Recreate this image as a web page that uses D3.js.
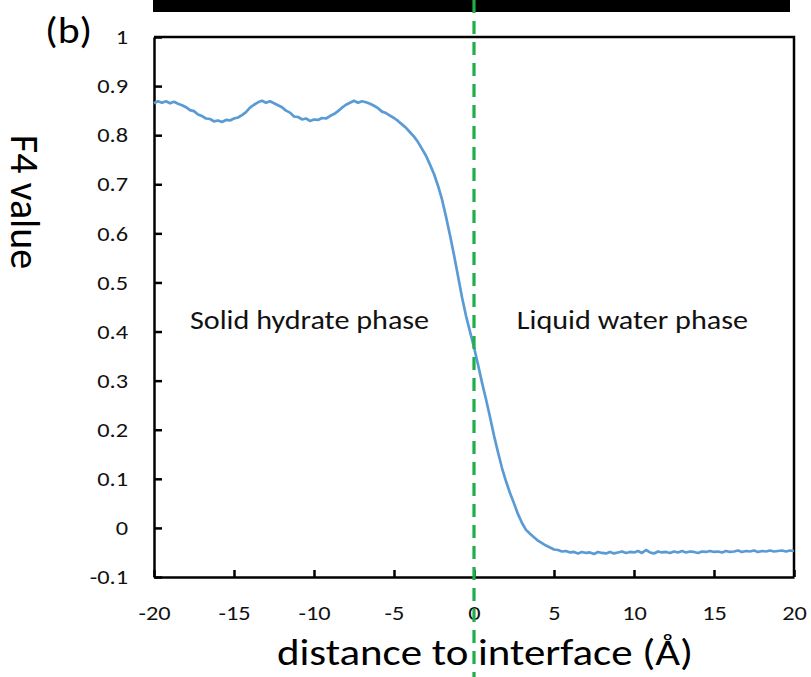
<!DOCTYPE html>
<html>
<head>
<meta charset="utf-8">
<script src="https://cdn.jsdelivr.net/npm/d3@7"></script>
<style>
  body { margin: 0; background: #fff; }
  svg { display: block; }
  text { font-family: Carlito, Lato, "Open Sans", sans-serif; }
</style>
</head>
<body>
<div id="chart"></div>
<script>
// data: F4 value vs distance to interface (Å), step 0.25
var distance = d3.range(161).map(i => -20 + i * 0.25)
var f4 = [
  0.865, 0.869, 0.866, 0.869, 0.865, 0.868, 0.864, 0.861, 0.857, 0.851,
  0.849, 0.842, 0.839, 0.834, 0.833, 0.828, 0.830, 0.827, 0.831, 0.830,
  0.834, 0.836, 0.841, 0.847, 0.856, 0.862, 0.867, 0.870, 0.866, 0.869,
  0.865, 0.861, 0.857, 0.850, 0.846, 0.838, 0.837, 0.832, 0.834, 0.829,
  0.832, 0.831, 0.835, 0.834, 0.839, 0.843, 0.849, 0.856, 0.862, 0.866,
  0.870, 0.866, 0.869, 0.867, 0.864, 0.860, 0.855, 0.848, 0.845, 0.840,
  0.835, 0.829, 0.822, 0.815, 0.806, 0.797, 0.786, 0.772, 0.758, 0.740,
  0.721, 0.697, 0.669, 0.634, 0.596, 0.556, 0.513, 0.470, 0.432, 0.400,
  0.368, 0.333, 0.296, 0.262, 0.226, 0.188, 0.154, 0.122, 0.095, 0.071,
  0.050, 0.028, 0.010, -0.004, -0.012, -0.019, -0.026, -0.031, -0.036, -0.040,
  -0.044, -0.045, -0.048, -0.047, -0.050, -0.049, -0.052, -0.049, -0.051, -0.050,
  -0.053, -0.049, -0.051, -0.052, -0.049, -0.052, -0.050, -0.048, -0.051, -0.049,
  -0.050, -0.047, -0.051, -0.045, -0.050, -0.052, -0.048, -0.050, -0.049, -0.051,
  -0.048, -0.050, -0.047, -0.050, -0.048, -0.049, -0.051, -0.048, -0.049, -0.047,
  -0.049, -0.048, -0.050, -0.047, -0.049, -0.048, -0.046, -0.049, -0.047, -0.048,
  -0.046, -0.049, -0.047, -0.048, -0.046, -0.048, -0.047, -0.046, -0.048, -0.046,
  -0.047
]
var xTicks = [-20, -15, -10, -5, 0, 5, 10, 15, 20]
var yTicks = [-0.1, 0, 0.1, 0.2, 0.3, 0.4, 0.5, 0.6, 0.7, 0.8, 0.9, 1]
var interfaceAt = 0
var phaseLabels = [
  {text: "Solid hydrate phase", x: -10.28, y: 0.405},
  {text: "Liquid water phase", x: 9.9, y: 0.405}
]

// layout
var total_width = 811, total_height = 677
var margin = {top: 37, right: 17, bottom: 100, left: 154}
var width = total_width - margin.left - margin.right,
    height = total_height - margin.top - margin.bottom
var stretch = 1.16   // the source figure is a bit wider than tall

var svg = d3.select("#chart").append("svg")
    .attr("width", total_width)
    .attr("height", total_height)

var x = d3.scaleLinear().domain([-20, 20]).range([margin.left, margin.left + width])
var y = d3.scaleLinear().domain([-0.1, 1]).range([margin.top + height, margin.top])

var yFmt = d => d === 0 ? "0" : d === 1 ? "1" : (d < 0 ? "-" : "") + Math.abs(d).toFixed(1)
var xFmt = d => (d < 0 ? "-" : "") + Math.abs(d)

// black bar on top of the panel
svg.append("rect")
    .attr("x", 153).attr("y", 0)
    .attr("width", 637).attr("height", 12)
    .attr("fill", "#000")

// frame (top + right)
svg.append("path")
    .attr("d", "M" + x(-20) + "," + y(1) + "H" + x(20) + "V" + y(-0.1))
    .attr("fill", "none")
    .attr("stroke", "#000")
    .attr("stroke-width", 2.5)

// axes
var yAxis = svg.append("g")
    .attr("transform", "translate(" + margin.left + ",0)")
    .call(d3.axisLeft(y).tickValues(yTicks).tickFormat(yFmt)
        .tickSizeInner(-8).tickSizeOuter(0).tickPadding(26))
var xAxis = svg.append("g")
    .attr("transform", "translate(0," + (margin.top + height) + ")")
    .call(d3.axisBottom(x).tickValues(xTicks).tickFormat(xFmt)
        .tickSizeInner(-7).tickSizeOuter(0).tickPadding(28))

;[xAxis, yAxis].forEach(function(a){
    a.select(".domain").attr("stroke", "#000").attr("stroke-width", 2.5)
    a.selectAll(".tick line").attr("stroke", "#000").attr("stroke-width", 2.5)
    a.selectAll(".tick text")
        .style("font-family", "Carlito, Lato, 'Open Sans', sans-serif")
        .style("font-size", "21px")
        .attr("fill", "#111")
        .attr("x", function(){ return +d3.select(this).attr("x") / stretch })
        .attr("transform", "scale(" + stretch + ",1)")
})

// curve
var line = d3.line()
    .x((d, i) => x(distance[i]))
    .y(d => y(d))
svg.append("path")
    .datum(f4)
    .attr("d", line)
    .attr("fill", "none")
    .attr("stroke", "#5b9bd5")
    .attr("stroke-width", 2.7)
    .attr("stroke-linejoin", "round")

// interface line
svg.append("line")
    .attr("x1", x(interfaceAt)).attr("x2", x(interfaceAt))
    .attr("y1", 0).attr("y2", total_height)
    .attr("stroke", "#1fae4a")
    .attr("stroke-width", 3.2)
    .attr("stroke-dasharray", "13,8")

// phase labels
svg.append("g").selectAll("text")
    .data(phaseLabels)
    .enter().append("text")
    .attr("transform", d => "translate(" + x(d.x) + "," + y(d.y) + ") scale(" + stretch + ",1)")
    .attr("text-anchor", "middle")
    .style("font-size", "26px")
    .attr("fill", "#111")
    .text(d => d.text)

// titles
svg.append("text")
    .attr("transform", "translate(485,665) scale(" + stretch + ",1)")
    .attr("text-anchor", "middle")
    .style("font-size", "37px")
    .attr("fill", "#000")
    .text("distance to interface (Å)")

svg.append("text")
    .attr("transform", "translate(11,202) rotate(90)")
    .attr("text-anchor", "middle")
    .style("font-size", "40px")
    .attr("fill", "#000")
    .text("F4 value")

svg.append("text")
    .attr("transform", "translate(45,43) scale(" + stretch + ",1)")
    .style("font-size", "36px")
    .attr("fill", "#000")
    .text("(b)")
</script>
</body>
</html>
